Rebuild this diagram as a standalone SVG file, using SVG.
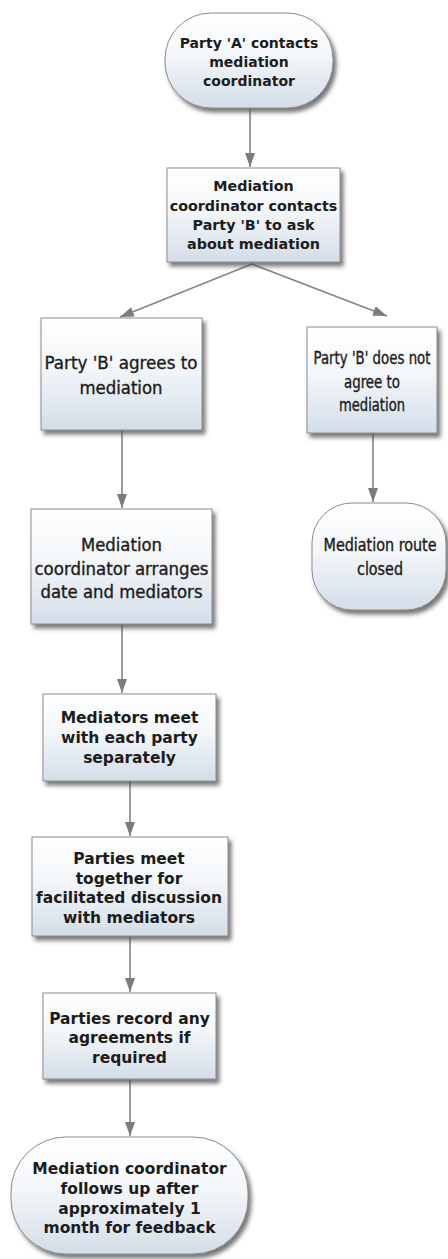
<svg xmlns="http://www.w3.org/2000/svg" width="448" height="1259" viewBox="0 0 448 1259">
  <defs>
    <linearGradient id="fillGrad" x1="0" y1="0" x2="0" y2="1">
      <stop offset="0" stop-color="#ffffff"/>
      <stop offset="0.45" stop-color="#f3f6f9"/>
      <stop offset="1" stop-color="#d3dde8"/>
    </linearGradient>
    <filter id="shadow" x="-10%" y="-10%" width="125%" height="130%">
      <feDropShadow dx="3" dy="4" stdDeviation="2" flood-color="#4a4a4a" flood-opacity="0.75"/>
    </filter>
    <marker id="arrow" viewBox="0 0 14 10" refX="14" refY="5" markerWidth="14" markerHeight="10" markerUnits="userSpaceOnUse" orient="auto">
      <path d="M0,0 L14,5 L0,10 z" fill="#7c7c7c"/>
    </marker>
    <style>
      .shape { fill: url(#fillGrad); stroke: #8c8c8c; stroke-width: 1; filter: url(#shadow); }
      .bold { font-family: "DejaVu Sans", Verdana, sans-serif; font-weight: bold; fill: #1c1c1c; text-anchor: middle; }
      .cond { font-family: "DejaVu Sans Condensed", "DejaVu Sans", sans-serif; font-size: 18px; fill: #1c1c1c; stroke: #1c1c1c; stroke-width: 0.35; text-anchor: middle; }
      .narrow { font-size: 17px; }
      .link { stroke: #858585; stroke-width: 1.6; fill: none; marker-end: url(#arrow); }
    </style>
  </defs>

  <rect width="448" height="1259" fill="#ffffff"/>

  <!-- connectors -->
  <g id="connectors">
    <line class="link" x1="250" y1="108" x2="250" y2="167"/>
    <line class="link" x1="252" y1="264" x2="120" y2="317"/>
    <line class="link" x1="252" y1="264" x2="387" y2="316"/>
    <line class="link" x1="122" y1="430" x2="122" y2="508"/>
    <line class="link" x1="373" y1="433" x2="373" y2="502"/>
    <line class="link" x1="122" y1="624" x2="122" y2="693"/>
    <line class="link" x1="130" y1="781" x2="130" y2="836"/>
    <line class="link" x1="130" y1="936" x2="130" y2="992"/>
    <line class="link" x1="130" y1="1079" x2="130" y2="1136"/>
  </g>

  <!-- start: Party A contacts coordinator -->
  <g id="node-start">
    <rect class="shape" x="165" y="13" width="168" height="95" rx="46" ry="46"/>
    <text class="bold" font-size="14" x="249" y="48">Party 'A' contacts</text>
    <text class="bold" font-size="14" x="249" y="67">mediation</text>
    <text class="bold" font-size="14" x="249" y="86">coordinator</text>
  </g>

  <g id="node-contact-b">
    <rect class="shape" x="167" y="168" width="173" height="94"/>
    <text class="bold" font-size="14.3" x="253.5" y="191">Mediation</text>
    <text class="bold" font-size="14.3" x="253.5" y="211">coordinator contacts</text>
    <text class="bold" font-size="14.3" x="253.5" y="230">Party 'B' to ask</text>
    <text class="bold" font-size="14.3" x="253.5" y="249">about mediation</text>
  </g>

  <g id="node-b-agrees">
    <rect class="shape" x="41" y="318" width="161" height="112"/>
    <text class="cond" x="121" y="369" textLength="153" lengthAdjust="spacingAndGlyphs">Party 'B' agrees to</text>
    <text class="cond" x="121" y="394" textLength="83" lengthAdjust="spacingAndGlyphs">mediation</text>
  </g>

  <g id="node-b-declines">
    <rect class="shape" x="307" y="327" width="130" height="106"/>
    <text class="cond narrow" x="372" y="364" textLength="117" lengthAdjust="spacingAndGlyphs">Party 'B' does not</text>
    <text class="cond narrow" x="372" y="388" textLength="56" lengthAdjust="spacingAndGlyphs">agree to</text>
    <text class="cond narrow" x="372" y="411" textLength="66" lengthAdjust="spacingAndGlyphs">mediation</text>
  </g>

  <g id="node-arrange">
    <rect class="shape" x="31" y="509" width="181" height="115"/>
    <text class="cond" x="121.5" y="551" textLength="81" lengthAdjust="spacingAndGlyphs">Mediation</text>
    <text class="cond" x="121.5" y="575" textLength="174" lengthAdjust="spacingAndGlyphs">coordinator arranges</text>
    <text class="cond" x="121.5" y="598" textLength="162" lengthAdjust="spacingAndGlyphs">date and mediators</text>
  </g>

  <!-- end: route closed -->
  <g id="node-closed">
    <rect class="shape" x="312" y="503" width="134" height="107" rx="40" ry="40"/>
    <text class="cond narrow" x="380" y="551" textLength="113" lengthAdjust="spacingAndGlyphs">Mediation route</text>
    <text class="cond narrow" x="380" y="575" textLength="46" lengthAdjust="spacingAndGlyphs">closed</text>
  </g>

  <g id="node-separate">
    <rect class="shape" x="43" y="694" width="173" height="87"/>
    <text class="bold" font-size="15.5" x="129.5" y="723">Mediators meet</text>
    <text class="bold" font-size="15.5" x="129.5" y="743">with each party</text>
    <text class="bold" font-size="15.5" x="129.5" y="763">separately</text>
  </g>

  <g id="node-together">
    <rect class="shape" x="32" y="837" width="196" height="99"/>
    <text class="bold" font-size="15.5" x="129" y="863.5">Parties meet</text>
    <text class="bold" font-size="15.5" x="129" y="883.5">together for</text>
    <text class="bold" font-size="15.5" x="129" y="902.5">facilitated discussion</text>
    <text class="bold" font-size="15.5" x="129" y="922.5">with mediators</text>
  </g>

  <g id="node-record">
    <rect class="shape" x="43" y="993" width="173" height="86"/>
    <text class="bold" font-size="15.5" x="129.5" y="1023.5">Parties record any</text>
    <text class="bold" font-size="15.5" x="129.5" y="1042.5">agreements if</text>
    <text class="bold" font-size="15.5" x="129.5" y="1062.5">required</text>
  </g>

  <!-- end: follow-up -->
  <g id="node-followup">
    <rect class="shape" x="11" y="1137" width="237" height="117" rx="55" ry="55"/>
    <text class="bold" font-size="15.5" x="129.5" y="1173.5">Mediation coordinator</text>
    <text class="bold" font-size="15.5" x="129.5" y="1193.5">follows up after</text>
    <text class="bold" font-size="15.5" x="129.5" y="1213.5">approximately 1</text>
    <text class="bold" font-size="15.5" x="129.5" y="1232.5">month for feedback</text>
  </g>
</svg>
